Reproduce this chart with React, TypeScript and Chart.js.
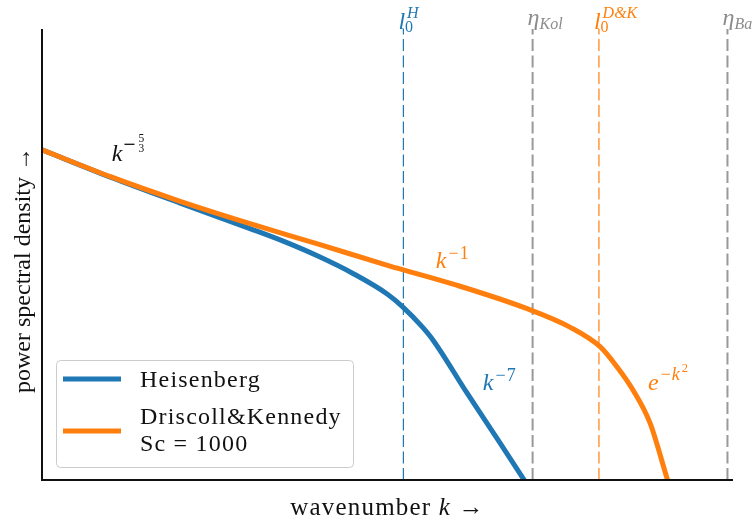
import { useEffect, useRef } from "react";
import { Chart, registerables } from "chart.js";

Chart.register(...registerables);

// Spectra in log10 units: x = log10 k, y = log10 E(k) (arbitrary offsets)
const heisenbergLogK = [0, 1, 2, 3, 3.5, 4, 4.5, 5, 5.22, 5.5, 5.66, 6.15, 6.63, 6.96, 7.05];
const heisenbergLogE = [7.32, 6.71, 6.14, 5.58, 5.29, 4.96, 4.58, 4.12, 3.84, 3.4, 3.1, 1.93, 0.82, 0.04, -0.17];
const dkLogK = [0, 1, 2, 3, 4, 5, 6, 7, 7.64, 8.08, 8.32, 8.55, 8.8, 9.045, 9.08];
const dkLogE = [7.32, 6.72, 6.18, 5.69, 5.23, 4.76, 4.32, 3.81, 3.39, 2.95, 2.51, 2.0, 1.26, 0.04, -0.13];

// Characteristic scales marked by vertical dashed lines
const markerNames = ["lH", "etaKol", "lDK", "etaBa"];
const markerLogK = [5.23, 7.1, 8.06, 9.92];

const X_MIN = 0;
const X_MAX = 10;
const Y_MIN = 0;
const Y_MAX = 10;

const BLUE = "#1f77b4";
const ORANGE = "#ff7f0e";
const GRAY = "#999999";
const GRAY_TEXT = "#8c8c8c";
const INK = "#111111";
const SERIF = '"Liberation Serif", "DejaVu Serif", serif';

const markerColors = [BLUE, GRAY, ORANGE, GRAY];
const markerWidths = [1.2, 2, 1.2, 2];

function font(size: number, italic = false) {
  return `${italic ? "italic " : ""}${size}px ${SERIF}`;
}

function drawText(
  ctx: CanvasRenderingContext2D,
  t: string,
  x: number,
  y: number,
  size: number,
  italic: boolean,
  color: string,
  spacing = 0
) {
  const c = ctx as CanvasRenderingContext2D & { letterSpacing?: string };
  c.letterSpacing = `${spacing}px`;
  ctx.font = font(size, italic);
  ctx.fillStyle = color;
  ctx.fillText(t, x, y);
  const w = ctx.measureText(t).width;
  c.letterSpacing = "0px";
  return w;
}

function measure(ctx: CanvasRenderingContext2D, t: string, size: number, italic: boolean, spacing = 0) {
  const c = ctx as CanvasRenderingContext2D & { letterSpacing?: string };
  c.letterSpacing = `${spacing}px`;
  ctx.font = font(size, italic);
  const w = ctx.measureText(t).width;
  c.letterSpacing = "0px";
  return w;
}

// Italic base symbol with a subscript and an optional superscript stacked on its right
function drawScaleLabel(
  ctx: CanvasRenderingContext2D,
  x: number,
  base: string,
  sub: string,
  subItalic: boolean,
  sup: string,
  color: string
) {
  const isEta = base === "η";
  const w = drawText(ctx, base, x, isEta ? 25 : 29, 24, true, color);
  drawText(ctx, sub, x + w, isEta ? 29 : 32, 16, subItalic, color);
  if (sup) drawText(ctx, sup, x + w + 2, 18, 16, true, color);
}

const overlayPlugin = {
  id: "overlay",
  afterDatasetsDraw(chart: Chart) {
    const ctx = chart.ctx;
    const { left, right, top, bottom } = chart.chartArea;
    const xs = chart.scales.x;
    const ys = chart.scales.y;
    ctx.save();
    ctx.textBaseline = "alphabetic";
    ctx.textAlign = "left";

    // left and bottom spines
    ctx.strokeStyle = INK;
    ctx.lineWidth = 2;
    ctx.beginPath();
    ctx.moveTo(left, top);
    ctx.lineTo(left, bottom);
    ctx.lineTo(right, bottom);
    ctx.stroke();

    // scale labels above the dashed lines
    markerNames.forEach((name, i) => {
      const px = xs.getPixelForValue(markerLogK[i]) - 5;
      if (name === "lH") drawScaleLabel(ctx, px, "l", "0", false, "H", BLUE);
      if (name === "lDK") drawScaleLabel(ctx, px, "l", "0", false, "D&K", ORANGE);
      if (name === "etaKol") drawScaleLabel(ctx, px, "η", "Kol", true, "", GRAY_TEXT);
      if (name === "etaBa") drawScaleLabel(ctx, px, "η", "Ba", true, "", GRAY_TEXT);
    });

    // slope annotations
    {
      const x = xs.getPixelForValue(1.01);
      const y = ys.getPixelForValue(7.07);
      const w = drawText(ctx, "k", x, y, 24, true, INK);
      ctx.fillStyle = INK;
      ctx.fillRect(x + w + 2, y - 17.5, 10, 1.3);
      const fx = x + w + 15;
      ctx.textAlign = "center";
      drawText(ctx, "5", fx + 4, y - 19.5, 11.5, false, INK);
      drawText(ctx, "3", fx + 4, y - 9, 11.5, false, INK);
      ctx.textAlign = "left";
    }
    {
      const x = xs.getPixelForValue(5.7);
      const y = ys.getPixelForValue(4.7);
      const w = drawText(ctx, "k", x, y, 24, true, ORANGE);
      drawText(ctx, "−1", x + w + 2, y - 9, 18, false, ORANGE, 1);
    }
    {
      const x = xs.getPixelForValue(6.38);
      const y = ys.getPixelForValue(2.0);
      const w = drawText(ctx, "k", x, y, 24, true, BLUE);
      drawText(ctx, "−7", x + w + 2, y - 9, 18, false, BLUE, 1);
    }
    {
      const x = xs.getPixelForValue(8.77);
      const y = ys.getPixelForValue(2.0);
      const w = drawText(ctx, "e", x, y, 24, true, ORANGE);
      const w2 = drawText(ctx, "−", x + w + 2, y - 10, 18, false, ORANGE);
      const w3 = drawText(ctx, "k", x + w + 3 + w2, y - 10, 18, true, ORANGE);
      drawText(ctx, "2", x + w + 5 + w2 + w3, y - 18, 12.5, false, ORANGE);
    }

    // axis titles
    const TS = 25;
    const SP = 1.2;
    const pre = "wavenumber ";
    const post = " →";
    const w1 = measure(ctx, pre, TS, false, SP);
    const w2 = measure(ctx, "k", TS, true, SP);
    const w3 = measure(ctx, post, TS, false, SP);
    let tx = (left + right) / 2 - (w1 + w2 + w3) / 2;
    tx += drawText(ctx, pre, tx, 515, TS, false, INK, SP);
    tx += drawText(ctx, "k", tx, 515, TS, true, INK, SP);
    drawText(ctx, post, tx, 515, TS, false, INK, SP);

    ctx.save();
    ctx.translate(30, 270);
    ctx.rotate(-Math.PI / 2);
    ctx.textAlign = "center";
    drawText(ctx, "power spectral density →", 0, 0, 24, false, INK, 0);
    ctx.restore();

    // legend
    const bx = 56, by = 360, bw = 297, bh = 107;
    ctx.beginPath();
    ctx.roundRect(bx + 0.5, by + 0.5, bw, bh, 4);
    ctx.fillStyle = "rgba(255,255,255,0.8)";
    ctx.fill();
    ctx.strokeStyle = "#cccccc";
    ctx.lineWidth = 1;
    ctx.stroke();

    ctx.lineWidth = 5;
    ctx.strokeStyle = BLUE;
    ctx.beginPath();
    ctx.moveTo(63, 379);
    ctx.lineTo(121, 379);
    ctx.stroke();
    ctx.strokeStyle = ORANGE;
    ctx.beginPath();
    ctx.moveTo(63, 431);
    ctx.lineTo(121, 431);
    ctx.stroke();

    drawText(ctx, "Heisenberg", 140, 387, 24, false, INK, 1.2);
    drawText(ctx, "Driscoll&Kennedy", 140, 424, 24, false, INK, 1.2);
    drawText(ctx, "Sc = 1000", 140, 451, 24, false, INK, 1.2);

    ctx.restore();
  },
};

export default function App() {
  const ref = useRef<HTMLCanvasElement | null>(null);

  useEffect(() => {
    const canvas = ref.current;
    if (!canvas) return;

    const markerSets = markerLogK.map((k, i) => ({
      label: markerNames[i],
      data: [
        { x: k, y: Y_MIN },
        { x: k, y: Y_MAX },
      ],
      borderColor: markerColors[i],
      borderWidth: markerWidths[i],
      borderDash: [12, 4.5],
      pointRadius: 0,
      tension: 0,
    }));

    const chart = new Chart(canvas, {
      type: "line",
      data: {
        datasets: [
          {
            label: "Driscoll&Kennedy Sc = 1000",
            data: dkLogK.map((x, i) => ({ x, y: dkLogE[i] })),
            borderColor: ORANGE,
            borderWidth: 5,
            pointRadius: 0,
            cubicInterpolationMode: "monotone",
          },
          {
            label: "Heisenberg",
            data: heisenbergLogK.map((x, i) => ({ x, y: heisenbergLogE[i] })),
            borderColor: BLUE,
            borderWidth: 5,
            pointRadius: 0,
            cubicInterpolationMode: "monotone",
          },
          ...markerSets,
        ],
      },
      options: {
        responsive: false,
        animation: false,
        events: [],
        layout: { padding: { left: 42, right: 22, top: 29, bottom: 45 } },
        scales: {
          x: { type: "linear", display: false, min: X_MIN, max: X_MAX },
          y: { type: "linear", display: false, min: Y_MIN, max: Y_MAX },
        },
        plugins: {
          legend: { display: false },
          tooltip: { enabled: false },
        },
      },
      plugins: [overlayPlugin],
    });

    return () => chart.destroy();
  }, []);

  return (
    <div style={{ position: "absolute", left: 0, top: 0, width: 755, height: 525, background: "#ffffff" }}>
      <canvas ref={ref} width={755} height={525} style={{ width: 755, height: 525 }} />
    </div>
  );
}
